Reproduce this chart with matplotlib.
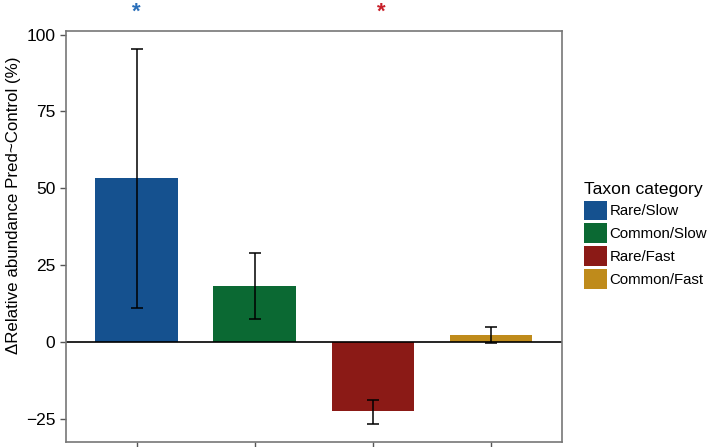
import numpy as np
import matplotlib
matplotlib.use('Agg')
from matplotlib import pyplot as plt
from matplotlib.patches import Patch

plt.rcParams['font.family'] = ['Liberation Sans', 'DejaVu Sans']

# 数据
categories = ['Rare/Slow', 'Common/Slow', 'Rare/Fast', 'Common/Fast']
values = [53.2, 18.1, -22.6, 2.2]
err_low = [11.0, 7.5, -26.6, -0.4]
err_high = [95.5, 29.0, -19.0, 4.7]
colors = ['#15518f', '#0b6933', '#8b1a16', '#bf8b1b']
stars = ['*', '', '*', '']
star_colors = ['#2a6fba', None, '#c8202a', None]
star_shift = [0.0, 0.0, 0.07, 0.0]

x = np.arange(1, len(categories) + 1)
yerr = [np.array(values) - np.array(err_low), np.array(err_high) - np.array(values)]

fig = plt.figure(figsize=(7.09, 4.47), dpi=100)
ax = fig.add_axes([65.7 / 709, 1 - 441.7 / 447, (562 - 65.7) / 709, (441.7 - 30.7) / 447])

ax.bar(x, values, width=0.7, color=colors, zorder=2)
ax.errorbar(x, values, yerr=yerr, fmt='none', ecolor='black', elinewidth=1.1,
            capsize=4, capthick=1.1, zorder=3)
ax.axhline(0, color='black', lw=1.2, zorder=2.5)

# 显著性星号 (x 用数据坐标, y 用坐标轴比例)
for xi, s, c, dx in zip(x, stars, star_colors, star_shift):
    if s:
        ax.text(xi + dx, 1.071, s, color=c, fontsize=16, ha='center', va='top',
                fontweight='bold', transform=ax.get_xaxis_transform(), clip_on=False)

ax.set_xlim(0.4, 4.6)
ax.set_ylim(-32.5, 101.3)
ax.set_yticks([-25, 0, 25, 50, 75, 100])
ax.set_xticks(x)
ax.set_xticklabels([])
ax.tick_params(axis='both', colors='#555555', length=4, width=1, labelcolor='black', labelsize=12.5)
for sp in ax.spines.values():
    sp.set_color('#777777')
    sp.set_linewidth(1.2)
ax.set_ylabel('\u0394Relative abundance Pred~Control (%)', fontsize=12.2)
ax.yaxis.set_label_coords(-0.09, 0.576)

handles = [Patch(facecolor=c, edgecolor='none', label=l) for c, l in zip(colors, categories)]
leg = fig.legend(handles=handles, title='Taxon category', loc='upper left',
                 bbox_to_anchor=(578 / 709, 1 - 176 / 447), frameon=False,
                 fontsize=10.8, title_fontsize=12.6, handlelength=1.5, handleheight=1.6,
                 handletextpad=0.2, labelspacing=0.24, borderaxespad=0)
leg._legend_box.align = 'left'

fig.savefig('out.png', dpi=100)
